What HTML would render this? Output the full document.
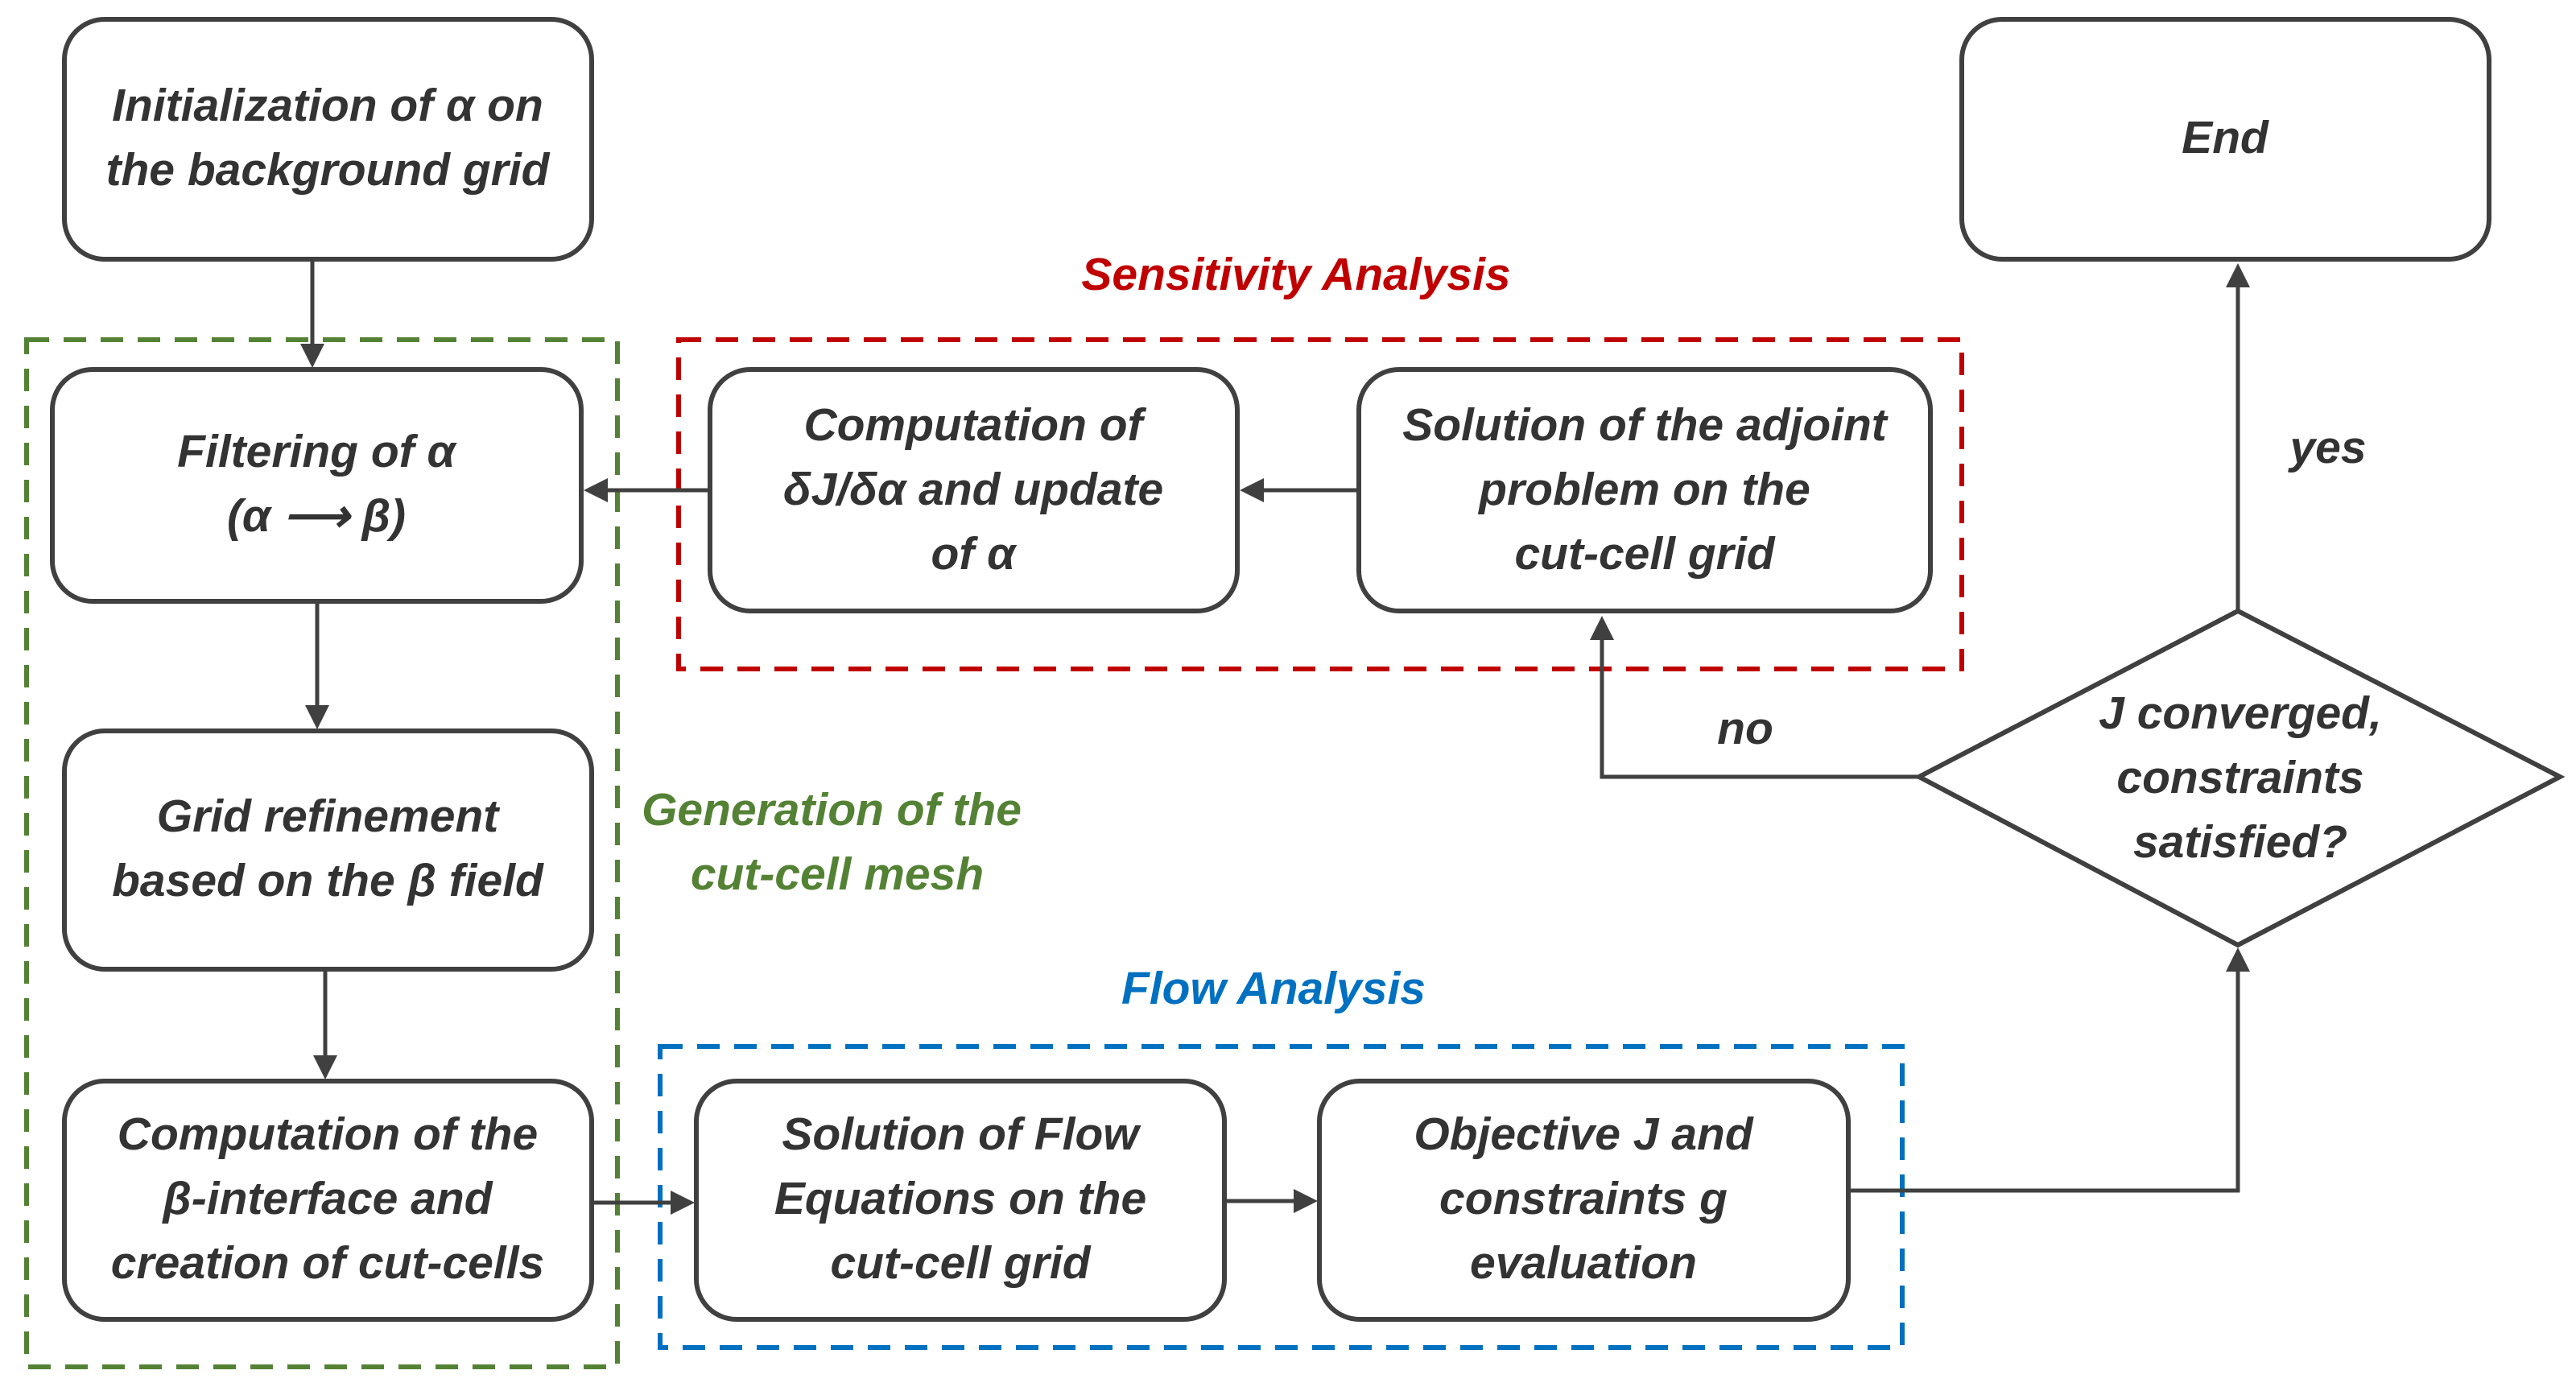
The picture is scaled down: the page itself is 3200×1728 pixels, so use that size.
<!DOCTYPE html>
<html><head><meta charset="utf-8"><style>
html,body{margin:0;padding:0;background:#fff}
svg{display:block}
text{font-family:"Liberation Sans",sans-serif;font-style:italic;font-weight:bold;font-size:57px;fill:#333;text-anchor:middle}
</style></head><body>
<svg width="3200" height="1728" viewBox="0 0 3200 1728" xmlns="http://www.w3.org/2000/svg">
<defs>
<marker id="a" markerWidth="6" markerHeight="6" refX="5" refY="3" orient="auto" markerUnits="strokeWidth">
<path d="M0,0 L6,3 L0,6 Z" fill="#404040"/></marker>
</defs>
<rect x="33" y="422" width="734" height="1276" fill="none" stroke="#548235" stroke-width="6" stroke-dasharray="28,18"/>
<rect x="843" y="422" width="1594" height="409" fill="none" stroke="#c00000" stroke-width="6" stroke-dasharray="28,18"/>
<rect x="820" y="1300" width="1543" height="374" fill="none" stroke="#0070c0" stroke-width="6" stroke-dasharray="28,18"/>
<g fill="#fff" stroke="#404040" stroke-width="6">
<rect x="80" y="24" width="655" height="298" rx="50"/>
<rect x="65" y="459" width="657" height="288" rx="50"/>
<rect x="80" y="908" width="655" height="296" rx="50"/>
<rect x="80" y="1343" width="655" height="296" rx="50"/>
<rect x="882" y="459" width="655" height="300" rx="50"/>
<rect x="1688" y="459" width="710" height="300" rx="50"/>
<rect x="2437" y="24" width="655" height="298" rx="50"/>
<rect x="865" y="1343" width="656" height="296" rx="50"/>
<rect x="1639" y="1343" width="657" height="296" rx="50"/>
<polygon points="2780,759 3180,965 2780,1174 2384,965"/>
</g>
<g fill="none" stroke="#404040" stroke-width="5">
<line x1="388" y1="322" x2="388" y2="452" marker-end="url(#a)"/>
<line x1="394" y1="747" x2="394" y2="901" marker-end="url(#a)"/>
<line x1="404" y1="1204" x2="404" y2="1336" marker-end="url(#a)"/>
<line x1="735" y1="1494" x2="858" y2="1494" marker-end="url(#a)"/>
<line x1="1521" y1="1492" x2="1632" y2="1492" marker-end="url(#a)"/>
<polyline points="2296,1479 2780,1479 2780,1182" marker-end="url(#a)"/>
<line x1="2780" y1="759" x2="2780" y2="332" marker-end="url(#a)"/>
<polyline points="2384,965 1990,965 1990,770" marker-end="url(#a)"/>
<line x1="1688" y1="609" x2="1545" y2="609" marker-end="url(#a)"/>
<line x1="882" y1="609" x2="730" y2="609" marker-end="url(#a)"/>
</g>
<text x="407" y="150">Initialization of α on</text>
<text x="407" y="230">the background grid</text>
<text x="393" y="580">Filtering of α</text>
<text x="393" y="660">(α ⟶ β)</text>
<text x="407" y="1033">Grid refinement</text>
<text x="407" y="1113">based on the β field</text>
<text x="407" y="1428">Computation of the</text>
<text x="407" y="1508">β-interface and</text>
<text x="407" y="1588">creation of cut-cells</text>
<text x="1209" y="547">Computation of</text>
<text x="1209" y="627">δJ/δα and update</text>
<text x="1209" y="707">of α</text>
<text x="2043" y="547">Solution of the adjoint</text>
<text x="2043" y="627">problem on the</text>
<text x="2043" y="707">cut-cell grid</text>
<text x="2764" y="190">End</text>
<text x="1193" y="1428">Solution of Flow</text>
<text x="1193" y="1508">Equations on the</text>
<text x="1193" y="1588">cut-cell grid</text>
<text x="1967" y="1428">Objective J and</text>
<text x="1967" y="1508">constraints g</text>
<text x="1967" y="1588">evaluation</text>
<text x="2783" y="905">J converged,</text>
<text x="2783" y="985">constraints</text>
<text x="2783" y="1065">satisfied?</text>
<text x="2892" y="575">yes</text>
<text x="2168" y="924">no</text>
<text x="1610" y="360" style="fill:#c00000">Sensitivity Analysis</text>
<text x="1582" y="1247" style="fill:#0070c0">Flow Analysis</text>
<text x="1033" y="1025" style="fill:#548235">Generation of the</text>
<text x="1040" y="1105" style="fill:#548235">cut-cell mesh</text>
</svg>
</body></html>
